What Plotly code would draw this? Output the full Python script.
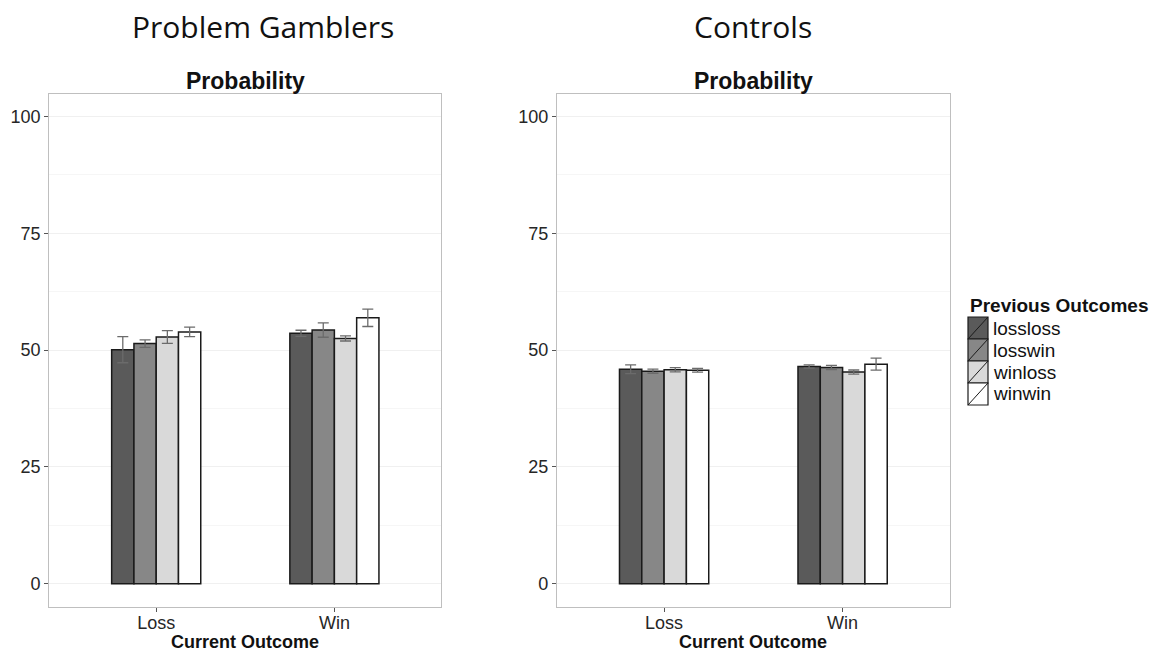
import plotly.graph_objects as go

# Data: mean probability ratings (%) with standard errors
current_outcome = ["Loss", "Win"]
previous_outcomes = ["lossloss", "losswin", "winloss", "winwin"]
fill_colors = ["#5a5a5a", "#878787", "#d9d9d9", "#ffffff"]

gamblers_mean = {
    "lossloss": [50.1, 53.6],
    "losswin": [51.4, 54.3],
    "winloss": [52.8, 52.5],
    "winwin": [53.9, 56.9],
}
gamblers_se = {
    "lossloss": [2.8, 0.65],
    "losswin": [0.8, 1.55],
    "winloss": [1.35, 0.55],
    "winwin": [1.0, 1.85],
}
controls_mean = {
    "lossloss": [45.9, 46.5],
    "losswin": [45.5, 46.3],
    "winloss": [45.8, 45.3],
    "winwin": [45.7, 47.0],
}
controls_se = {
    "lossloss": [0.95, 0.35],
    "losswin": [0.45, 0.45],
    "winloss": [0.45, 0.45],
    "winwin": [0.4, 1.3],
}

panel_titles = ["Problem Gamblers", "Controls"]
y_ticks = [0, 25, 50, 75, 100]

W, H = 1155, 652
FONT = "Liberation Sans, Arial, sans-serif"

fig = go.Figure()

panels = [
    ("x", "y", gamblers_mean, gamblers_se),
    ("x2", "y2", controls_mean, controls_se),
]
for xa, ya, means, ses in panels:
    for name, color in zip(previous_outcomes, fill_colors):
        fig.add_trace(go.Bar(
            x=current_outcome,
            y=means[name],
            name=name,
            xaxis=xa,
            yaxis=ya,
            marker=dict(color=color, line=dict(color="#1a1a1a", width=1.5)),
            error_y=dict(type="data", array=ses[name], visible=True,
                         color="#6b6b6b", thickness=1.3, width=5.5),
            showlegend=False,
        ))

# Panel geometry (pixels)
left_px = [(49.3, 441.3), (557.0, 949.7)]
title_cx = [263, 753]
top_px, bottom_px = 94.0, 606.7

def xdom(a, b):
    return [a / W, b / W]

ydom = [1 - bottom_px / H, 1 - top_px / H]

axis_common = dict(
    showline=True, linecolor="#bfbfbf", linewidth=1.3, mirror=True,
    ticks="outside", ticklen=4, tickcolor="#555555", tickwidth=1,
    tickfont=dict(family=FONT, size=18, color="#262626"),
    zeroline=False,
)

for i, (xa, ya) in enumerate([("xaxis", "yaxis"), ("xaxis2", "yaxis2")]):
    anchor_y = "y" if i == 0 else "y2"
    anchor_x = "x" if i == 0 else "x2"
    fig.update_layout(**{
        xa: dict(
            domain=xdom(*left_px[i]), anchor=anchor_y,
            type="category", range=[-0.6, 1.6], showgrid=False,
            ticklabelstandoff=-4,
            **axis_common,
        ),
        ya: dict(
            domain=ydom, anchor=anchor_x,
            range=[-4.9, 104.8], tickvals=y_ticks,
            showgrid=True, gridcolor="#f0f0f0", gridwidth=1.2,
            minor=dict(tickvals=[12.5, 37.5, 62.5, 87.5], showgrid=True,
                       gridcolor="#f6f6f6", gridwidth=1, ticks=""),
            **axis_common,
        ),
    })

annotations = []
for i, title in enumerate(panel_titles):
    a, b = left_px[i]
    cx = (a + b) / 2 / W
    annotations.append(dict(
        text=title, x=title_cx[i] / W, y=1 - 27 / H, xref="paper", yref="paper",
        showarrow=False, xanchor="center", yanchor="middle",
        font=dict(family="Open Sans, sans-serif", size=30, color="#111111"),
    ))
    annotations.append(dict(
        text="<b>Probability</b>", x=cx, y=1 - 81 / H, xref="paper", yref="paper",
        showarrow=False, xanchor="center", yanchor="middle",
        font=dict(family=FONT, size=23, color="#111111"),
    ))
    annotations.append(dict(
        text="<b>Current Outcome</b>", x=cx, y=1 - 642 / H, xref="paper", yref="paper",
        showarrow=False, xanchor="center", yanchor="middle",
        font=dict(family=FONT, size=18, color="#111111"),
    ))

# Legend drawn as keyed boxes with a diagonal stroke
leg_x0, leg_title_y = 968, 306
key_w, key_h = 20, 22
key_top = 317
shapes = []
annotations.append(dict(
    text="<b>Previous Outcomes</b>", x=leg_x0 / W, y=1 - leg_title_y / H,
    xref="paper", yref="paper", showarrow=False, xanchor="left", yanchor="middle",
    font=dict(family=FONT, size=19, color="#111111"),
))
for k, (name, color) in enumerate(zip(previous_outcomes, fill_colors)):
    y0 = key_top + k * key_h
    y1 = y0 + key_h
    shapes.append(dict(
        type="rect", xref="paper", yref="paper",
        x0=leg_x0 / W, x1=(leg_x0 + key_w) / W,
        y0=1 - y1 / H, y1=1 - y0 / H,
        fillcolor=color, line=dict(color="#1a1a1a", width=1.2),
    ))
    shapes.append(dict(
        type="line", xref="paper", yref="paper",
        x0=leg_x0 / W, x1=(leg_x0 + key_w) / W,
        y0=1 - y1 / H, y1=1 - y0 / H,
        line=dict(color="#1a1a1a", width=1),
    ))
    annotations.append(dict(
        text=name, x=(leg_x0 + key_w + 3) / W, y=1 - (y0 + key_h / 2) / H,
        xref="paper", yref="paper", showarrow=False,
        xanchor="left", yanchor="middle",
        font=dict(family=FONT, size=19, color="#111111"),
    ))

fig.update_layout(
    width=W, height=H,
    margin=dict(l=0, r=0, t=0, b=0),
    paper_bgcolor="white", plot_bgcolor="white",
    barmode="group", bargap=0.5, bargroupgap=0,
    annotations=annotations, shapes=shapes,
    showlegend=False,
)

fig.write_html("out.html")
